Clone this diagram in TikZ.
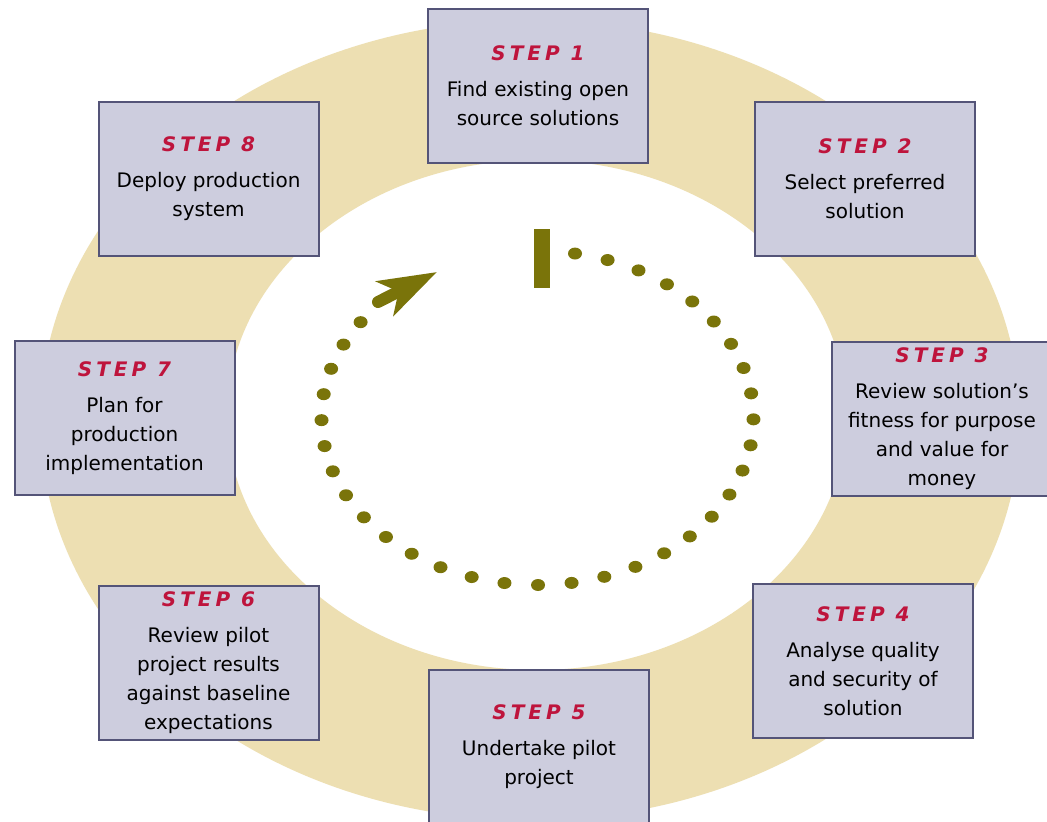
\documentclass[tikz,border=0pt]{standalone}
\usepackage{fontspec}
\setmainfont{DejaVu Sans}
\newfontfamily\stepfont[LetterSpace=20]{DejaVu Sans}
\usetikzlibrary{arrows.meta}
\definecolor{ringbeige}{RGB}{237,223,178}
\definecolor{boxfill}{RGB}{205,205,222}
\definecolor{boxline}{RGB}{84,84,120}
\definecolor{stepred}{RGB}{190,20,60}
\definecolor{dotolive}{RGB}{122,116,10}

\begin{document}
\begin{tikzpicture}[x=1pt,y=-1pt,
  stepbox/.style={draw=boxline,line width=2pt,fill=boxfill,
    minimum width=220pt,minimum height=154pt,inner sep=0pt,
    align=center,font=\fontsize{20}{29}\selectfont}]

\path[use as bounding box,clip] (0,0) rectangle (1047,822);
\fill[white] (0,0) rectangle (1047,822);

% ring behind the steps
\fill[ringbeige,even odd rule]
  (530,420) ellipse [x radius=490pt,y radius=400pt]
  (537,415) ellipse [x radius=310pt,y radius=255pt];

% dotted cycle
\fill[dotolive] (534,229) rectangle (550,288);
\foreach \k in {0,...,33}
  \fill[dotolive] ({537.5+216*cos(80-8.94*\k)},{418-167*sin(80-8.94*\k)})
    circle [x radius=7pt,y radius=6pt];
\coordinate (tail) at (378,302);
\coordinate (tip) at (437,272);
\draw[dotolive,line width=12pt,line cap=round,
  -{Stealth[length=58pt,width=38pt,inset=15pt]}] (tail) -- (tip);

\def\steps{1/538/85.5/{Find existing open\\source solutions},
  2/865/179/{Select preferred\\solution},
  3/942/419/{Review solution’s\\fitness for purpose\\and value for\\money},
  4/863/661/{Analyse quality\\and security of\\solution},
  5/539/746.5/{Undertake pilot\\project},
  6/208.5/662.5/{Review pilot\\project results\\against baseline\\expectations},
  7/124.5/418/{Plan for\\production\\implementation},
  8/208.5/178.5/{Deploy production\\system}}
\foreach \i/\x/\y/\txt in \steps
  \node[stepbox] (step\i) at (\x,\y)
    {\textcolor{stepred}{\stepfont\bfseries\itshape STEP~\i}\\[7pt]\txt};

\end{tikzpicture}
\end{document}
